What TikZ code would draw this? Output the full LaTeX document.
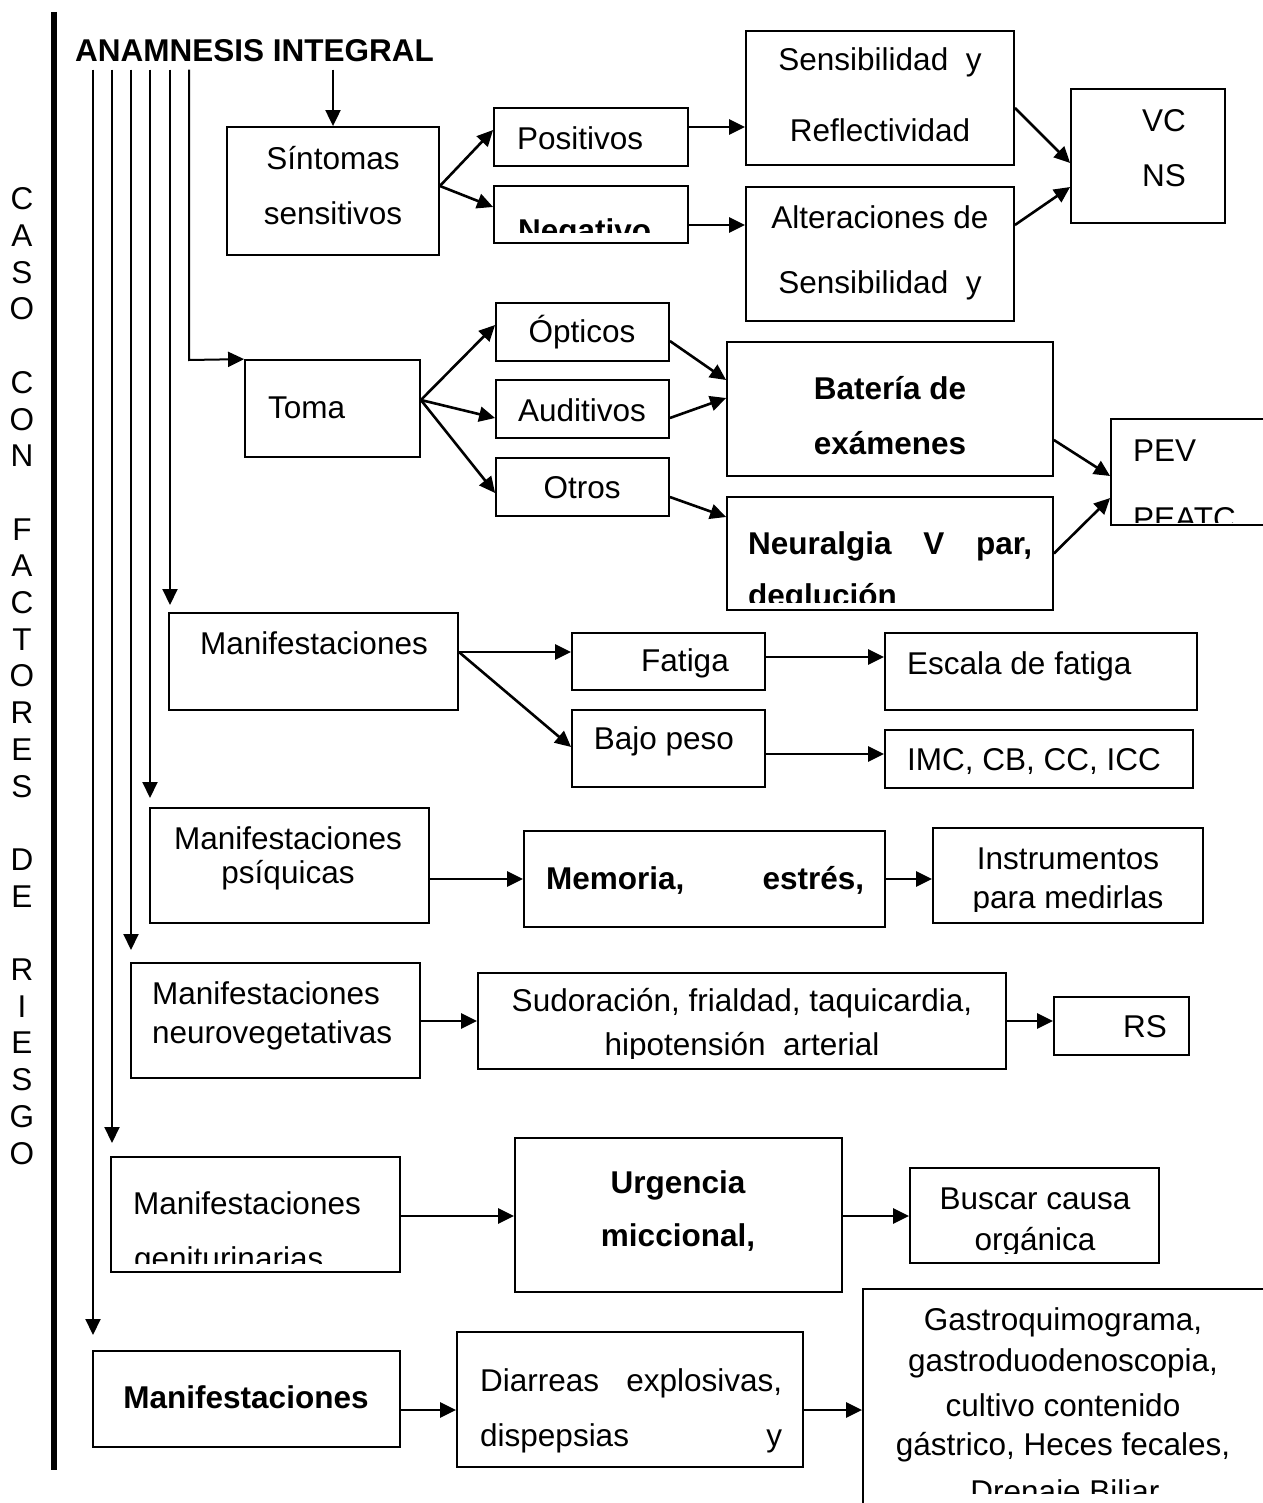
\documentclass[tikz,border=0pt]{standalone}
\usepackage{fontspec}
\setmainfont{Liberation Sans}
\usetikzlibrary{arrows.meta,fit}
\begin{document}
\begin{tikzpicture}[x=1pt,y=-1pt,
  box/.style={draw, line width=1.8pt, inner sep=0pt},
  txt/.style={font=\fontsize{31.5}{37}\selectfont, inner sep=0pt},
  btxt/.style={font=\fontsize{31.5}{37}\selectfont\bfseries, inner sep=0pt},
  arr/.style={line width=2.6pt, -{Triangle[length=16pt,width=15pt]}},
  feed/.style={line width=2pt, -{Triangle[length=16pt,width=15pt]}}]
\useasboundingbox (0,0) rectangle (1262,1503);

% side caption and bar
\foreach \c [count=\i from 0] in {C,A,S,O,{},C,O,N,{},F,A,C,T,O,R,E,S,{},D,E,{},R,I,E,S,G,O}
  \node[txt] (lt\i) at (22,199+36.7*\i) {\c};
\draw[line width=5.5pt] (54,12) -- (54,1470);

% title
\node[btxt, anchor=base west, inner ysep=7pt] (ana) at (75,62) {ANAMNESIS INTEGRAL};

% boxes
\node[box, fit={(227,127)(439,255)}] (sint) {};
\node[box, fit={(494,108)(688,166)}] (pos) {};
\node[box, fit={(494,186)(688,243)}] (neg) {};
\node[box, fit={(746,31)(1014,165)}] (sens) {};
\node[box, fit={(746,187)(1014,321)}] (alt) {};
\node[box, fit={(1071,89)(1225,223)}] (vc) {};
\node[box, fit={(245,360)(420,457)}] (toma) {};
\node[box, fit={(496,303)(669,361)}] (opt) {};
\node[box, fit={(496,380)(669,438)}] (aud) {};
\node[box, fit={(496,458)(669,516)}] (otr) {};
\node[box, fit={(727,342)(1053,476)}] (bat) {};
\node[box, fit={(727,497)(1053,610)}] (neu) {};
\node[box, fit={(1111,419)(1275,525)}] (pev) {};
\node[box, fit={(169,613)(458,710)}] (man) {};
\node[box, fit={(572,633)(765,690)}] (fat) {};
\node[box, fit={(572,710)(765,787)}] (baj) {};
\node[box, fit={(885,633)(1197,710)}] (esc) {};
\node[box, fit={(885,730)(1193,788)}] (imc) {};
\node[box, fit={(150,808)(429,923)}] (psi) {};
\node[box, fit={(524,831)(885,927)}] (mem) {};
\node[box, fit={(933,828)(1203,923)}] (ins) {};
\node[box, fit={(131,963)(420,1078)}] (nveg) {};
\node[box, fit={(478,973)(1006,1069)}] (sud) {};
\node[box, fit={(1054,997)(1189,1055)}] (rs) {};
\node[box, fit={(111,1157)(400,1272)}] (gen) {};
\node[box, fit={(515,1138)(842,1292)}] (urg) {};
\node[box, fit={(910,1168)(1159,1263)}] (bus) {};
\node[box, fit={(93,1351)(400,1447)}] (mgi) {};
\node[box, fit={(457,1332)(803,1467)}] (dia) {};
\node[box, fit={(863,1289)(1275,1520)}] (gas) {};

% texts
\node[txt] (sint1) at (333,158) {Síntomas};
\node[txt] (sint2) at (333,213) {sensitivos};
\node[txt, anchor=mid west] (post) at (517,147) {Positivos};
\begin{scope}
  \clip (494,186) rectangle (688,233);
  \node[btxt, anchor=base west] (negt) at (518,242) {Negativo};
\end{scope}
\node[txt] (sens1) at (880,62) {Sensibilidad\ \ y};
\node[txt] (sens2) at (880,130) {Reflectividad};
\node[txt] (alt1) at (880,217) {Alteraciones de};
\node[txt] (alt2) at (880,285) {Sensibilidad\ \ y};
\node[txt, anchor=mid west] (vc1) at (1142,129) {VC};
\node[txt, anchor=mid west] (vc2) at (1142,184) {NS};
\node[txt, anchor=mid west] (tomat) at (268,416) {Toma};
\node[txt] (optt) at (582,332) {Ópticos};
\node[txt] (audt) at (582,410) {Auditivos};
\node[txt] (otrt) at (582,488) {Otros};
\node[btxt] (bat1) at (890,388) {Batería de};
\node[btxt] (bat2) at (890,443) {exámenes};
\node[btxt, anchor=mid west] (neu1) at (748,552) {\makebox[284pt][s]{Neuralgia V par,}};
\begin{scope}
  \clip (727,497) rectangle (1053,602);
  \node[btxt, anchor=base west] (neu2) at (748,606) {deglución};
\end{scope}
\node[txt, anchor=mid west] (pev1) at (1133,459) {PEV};
\begin{scope}
  \clip (1111,419) rectangle (1275,522);
  \node[txt, anchor=base west] (pev2) at (1133,529) {PEATC};
\end{scope}
\node[txt] (mant) at (314,643) {Manifestaciones};
\node[txt] (fatt) at (685,663) {Fatiga};
\node[txt] (bajt) at (664,741) {Bajo peso};
\node[txt, anchor=mid west] (esct) at (907,672) {Escala de fatiga};
\node[txt, anchor=mid west] (imct) at (907,768) {IMC, CB, CC, ICC};
\node[txt] (psi1) at (288,838) {Manifestaciones};
\node[txt] (psi2) at (288,875) {psíquicas};
\node[btxt, anchor=mid west] (memt) at (546,887) {\makebox[318pt][s]{Memoria, estrés,}};
\node[txt] (ins1) at (1068,859) {Instrumentos};
\begin{scope}
  \clip (933,828) rectangle (1203,911);
  \node[txt, anchor=base] (ins2) at (1068,908) {para medirlas};
\end{scope}
\node[txt, anchor=mid west] (nveg1) at (152,1002) {Manifestaciones};
\node[txt, anchor=mid west] (nveg2) at (152,1041) {neurovegetativas};
\node[txt] (sud1) at (742,1003) {Sudoración, frialdad, taquicardia,};
\begin{scope}
  \clip (478,973) rectangle (1006,1058);
  \node[txt, anchor=base] (sud2) at (742,1055) {hipotensión\ \ arterial};
\end{scope}
\node[txt] (rst) at (1145,1027) {RS};
\node[txt, anchor=mid west] (gen1) at (133,1212) {Manifestaciones};
\begin{scope}
  \clip (111,1157) rectangle (400,1263);
  \node[txt, anchor=base west] (gen2) at (134,1269) {geniturinarias};
\end{scope}
\node[btxt] (urg1) at (678,1185) {Urgencia};
\node[btxt] (urg2) at (678,1238) {miccional,};
\node[txt] (bus1) at (1035,1199) {Buscar causa};
\begin{scope}
  \clip (910,1168) rectangle (1159,1253);
  \node[txt, anchor=base] (bus2) at (1035,1250) {orgánica};
\end{scope}
\node[btxt] (mgit) at (246,1397) {Manifestaciones};
\node[txt, anchor=mid west] (dia1) at (480,1389) {\makebox[302pt][s]{Diarreas explosivas,}};
\node[txt, anchor=mid west] (dia2) at (480,1444) {\makebox[302pt][s]{dispepsias y}};
\node[txt] (gas1) at (1063,1322) {Gastroquimograma,};
\node[txt] (gas2) at (1063,1363) {gastroduodenoscopia,};
\node[txt] (gas3) at (1063,1405) {cultivo contenido};
\node[txt] (gas4) at (1063,1447) {gástrico, Heces fecales,};
\begin{scope}
  \clip (863,1289) rectangle (1275,1493);
  \node[txt, anchor=base] (gas5) at (1065,1502) {Drenaje Biliar};
\end{scope}

% branch lines leaving the title
\coordinate (v1) at (93,1335);
\coordinate (v2) at (112,1143);
\coordinate (v3) at (131,950);
\coordinate (v4) at (150,798);
\coordinate (v5) at (170,605);
\coordinate (v6) at (189,360);
\draw[feed] (ana.south -| v1) -- (v1);
\draw[feed] (ana.south -| v2) -- (v2);
\draw[feed] (ana.south -| v3) -- (v3);
\draw[feed] (ana.south -| v4) -- (v4);
\draw[feed] (ana.south -| v5) -- (v5);
\draw[feed] (ana.south -| v6) -- (v6) -- (toma.north west);
\draw[feed] (ana.south -| sint.north) -- (sint.north);

% connectors
\draw[arr] ([yshift=5pt]sint.east) -- ([yshift=7pt]pos.west);
\draw[arr] ([yshift=5pt]sint.east) -- ([yshift=7.5pt]neg.west);
\draw[arr] ([yshift=10pt]pos.east) -- ([yshift=-29pt]sens.west);
\draw[arr] ([yshift=-10.5pt]neg.east) -- ([yshift=29pt]alt.west);
\draw[arr] ([yshift=-10pt]sens.east) -- ([yshift=-7pt]vc.west);
\draw[arr] ([yshift=29pt]alt.east) -- ([yshift=-31pt]vc.west);
\draw[arr] ([yshift=8.5pt]toma.east) -- ([yshift=7pt]opt.west);
\draw[arr] ([yshift=8.5pt]toma.east) -- ([yshift=-9pt]aud.west);
\draw[arr] ([yshift=8.5pt]toma.east) -- ([yshift=-6pt]otr.west);
\draw[arr] ([yshift=-9pt]opt.east) -- ([yshift=29pt]bat.west);
\draw[arr] ([yshift=-9pt]aud.east) -- ([yshift=11pt]bat.west);
\draw[arr] ([yshift=-10pt]otr.east) -- ([yshift=36.5pt]neu.west);
\draw[arr] ([yshift=-31pt]bat.east) -- ([yshift=-4pt]pev.west);
\draw[arr] (neu.east) -- ([yshift=-26pt]pev.west);
\draw[arr] ([yshift=9.5pt]man.east) -- ([yshift=9.5pt]fat.west);
\draw[arr] ([yshift=9.5pt]man.east) -- ([yshift=1.5pt]baj.west);
\draw[arr] ([yshift=4.5pt]fat.east) -- ([yshift=14.5pt]esc.west);
\draw[arr] ([yshift=-5.5pt]baj.east) -- ([yshift=5pt]imc.west);
\draw[arr] ([yshift=-13.5pt]psi.east) -- (mem.west);
\draw[arr] (mem.east) -- ([yshift=-3.5pt]ins.west);
\draw[arr] ([yshift=-0.5pt]nveg.east) -- (sud.west);
\draw[arr] (sud.east) -- ([yshift=5pt]rs.west);
\draw[arr] ([yshift=-1.5pt]gen.east) -- ([yshift=-1pt]urg.west);
\draw[arr] ([yshift=-1pt]urg.east) -- ([yshift=-0.5pt]bus.west);
\draw[arr] ([yshift=-11pt]mgi.east) -- ([yshift=-10.5pt]dia.west);
\draw[arr] ([yshift=-10.5pt]dia.east) -- ([yshift=-5.5pt]gas.west);
\end{tikzpicture}
\end{document}
